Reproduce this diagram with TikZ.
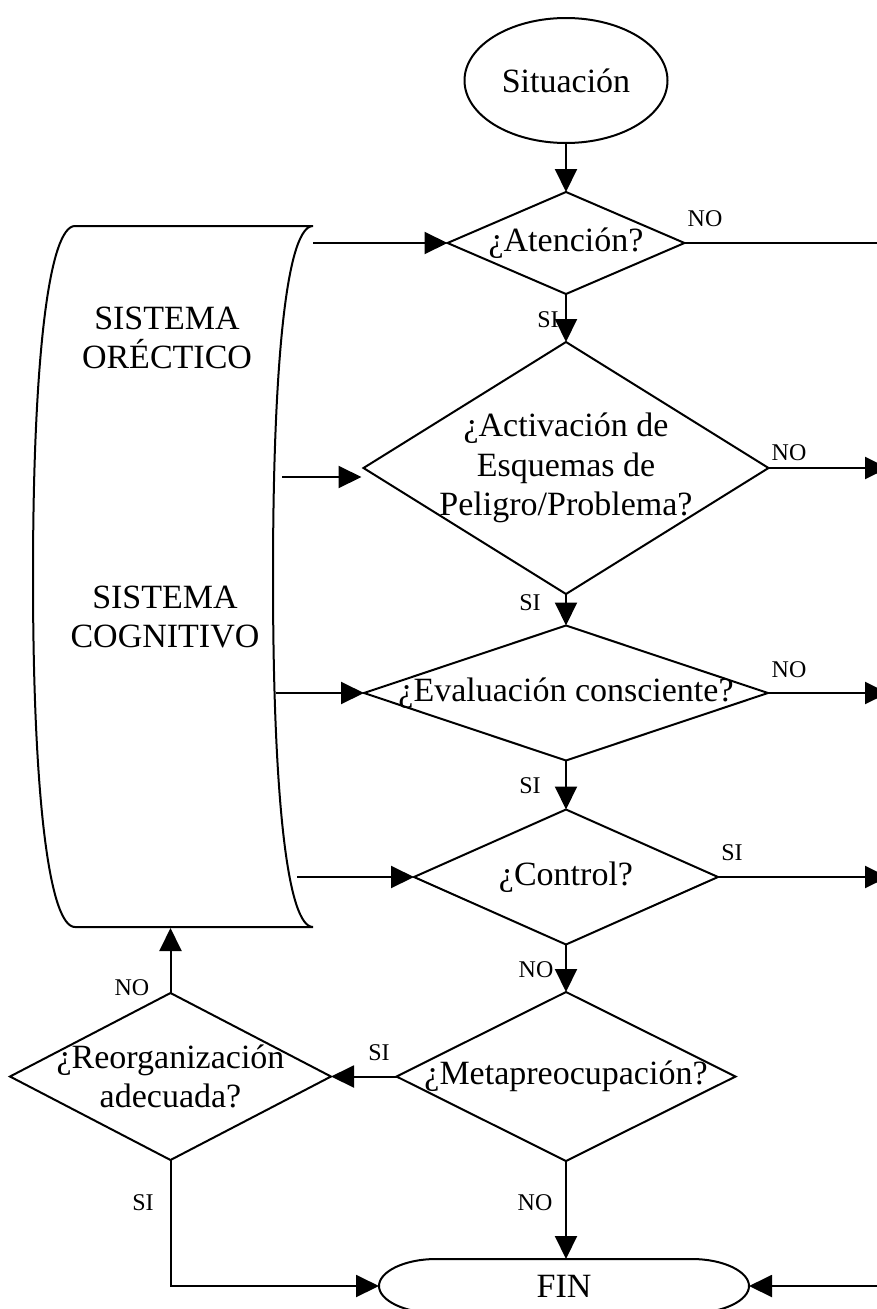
\documentclass[tikz,border=0pt]{standalone}
\usepackage{fontspec}
\setmainfont{Liberation Serif}
\usetikzlibrary{arrows.meta,calc,shapes.geometric}
\newcommand\diamondoutline[1]{\draw (#1.north) -- (#1.east) -- (#1.south) -- (#1.west) -- cycle;}
\begin{document}
\begin{tikzpicture}[x=1pt,y=-1pt,line width=2pt,
  arr/.style={-{Triangle[length=23pt,width=22pt]}},
  big/.style={font=\fontsize{34}{39.5}\selectfont, align=center, inner sep=0pt},
  lab/.style={font=\fontsize{24}{28}\selectfont, inner sep=0pt},
  holder/.style={rectangle, inner sep=0pt}]
\useasboundingbox (0,0) rectangle (877,1309);
\clip (0,0) rectangle (877,1309);

% nodes
\node[big, ellipse, draw, minimum width=203pt, minimum height=125pt] (sit) at (566,80.5) {Situación};
\node[big, holder, minimum width=235pt, minimum height=100pt] (aten) at (566,243) {¿Atención?};
\node[big, holder, minimum width=403pt, minimum height=250pt] (act) at (566,468) {¿Activación de\\Esquemas de\\Peligro/Problema?};
\node[big, holder, minimum width=402pt, minimum height=133pt] (eval) at (566,693) {¿Evaluación consciente?};
\node[big, holder, minimum width=302pt, minimum height=133pt] (ctrl) at (566,877) {¿Control?};
\node[big, holder, minimum width=337pt, minimum height=167pt] (meta) at (566,1076.5) {¿Metapreocupación?};
\node[big, holder, minimum width=319pt, minimum height=165pt] (reorg) at (170.5,1076.5) {¿Reorganización\\adecuada?};
\node[big, holder, minimum width=368pt, minimum height=52pt] (fin) at (564,1286) {FIN};
\node[holder, minimum width=280pt, minimum height=701pt] (sys) at (173,576.5) {};
\node[big] (orec) at (167,338) {SISTEMA\\ORÉCTICO};
\node[big] (cogn) at (165,617) {SISTEMA\\COGNITIVO};

% outlines
\diamondoutline{aten}
\diamondoutline{act}
\diamondoutline{eval}
\diamondoutline{ctrl}
\diamondoutline{meta}
\diamondoutline{reorg}
\draw (75,226) -- (313,226)
  .. controls (288,226) and (273,350) .. (273,576.5)
  .. controls (273,803) and (288,927) .. (313,927)
  -- (75,927)
  .. controls (50,927) and (33,803) .. (33,576.5)
  .. controls (33,350) and (50,226) .. (75,226) -- cycle;
\draw ($(fin.north west)+(57,0)$) -- ($(fin.north east)+(-57,0)$)
  .. controls +(31.5,0) and +(0,-14.4) .. (fin.east)
  .. controls +(0,14.4) and +(31.5,0) .. ($(fin.south east)+(-57,0)$)
  -- ($(fin.south west)+(57,0)$)
  .. controls +(-31.5,0) and +(0,14.4) .. (fin.west)
  .. controls +(0,-14.4) and +(-31.5,0) .. ($(fin.north west)+(57,0)$);

% free ends
\coordinate (s1) at (313,243);
\coordinate (s2) at (282,477);
\coordinate (s3) at (276,693);
\coordinate (s4) at (297,877);
\coordinate (eA) at (880,243);
\coordinate (eB) at (888,468);
\coordinate (eC) at (888,693);
\coordinate (eD) at (888,877);
\coordinate (eF) at (880,1286);

% connectors
\draw[arr] (sit.south) -- (aten.north);
\draw (aten.east) -- (eA);
\draw[arr] (aten.south) -- (act.north);
\draw[arr] (act.east) -- (eB);
\draw[arr] (act.south) -- (eval.north);
\draw[arr] (eval.east) -- (eC);
\draw[arr] (eval.south) -- (ctrl.north);
\draw[arr] (ctrl.east) -- (eD);
\draw[arr] (ctrl.south) -- (meta.north);
\draw[arr] (meta.west) -- (reorg.east);
\draw[arr] (meta.south) -- (meta.south |- fin.north);
\draw[arr] (reorg.north) -- (reorg.north |- sys.south);
\draw[arr] (reorg.south) |- (fin.west);
\draw[arr] (eF) -- (fin.east);
\draw[arr] (s1) -- (aten.west);
\draw[arr] (s2) -- ($(s2 -| act.west)+(-2,0)$);
\draw[arr] (s3) -- (eval.west);
\draw[arr] (s4) -- (ctrl.west);

% labels
\node[lab] (l1) at (705,219) {NO};
\node[lab] (l2) at (548,320) {SI};
\node[lab] (l3) at (789,453) {NO};
\node[lab] (l4) at (530,603) {SI};
\node[lab] (l5) at (789,670) {NO};
\node[lab] (l6) at (530,786) {SI};
\node[lab] (l7) at (732,853) {SI};
\node[lab] (l8) at (536,970) {NO};
\node[lab] (l9) at (379,1053) {SI};
\node[lab] (l10) at (132,988) {NO};
\node[lab] (l11) at (143,1203) {SI};
\node[lab] (l12) at (535,1203) {NO};
\end{tikzpicture}
\end{document}
